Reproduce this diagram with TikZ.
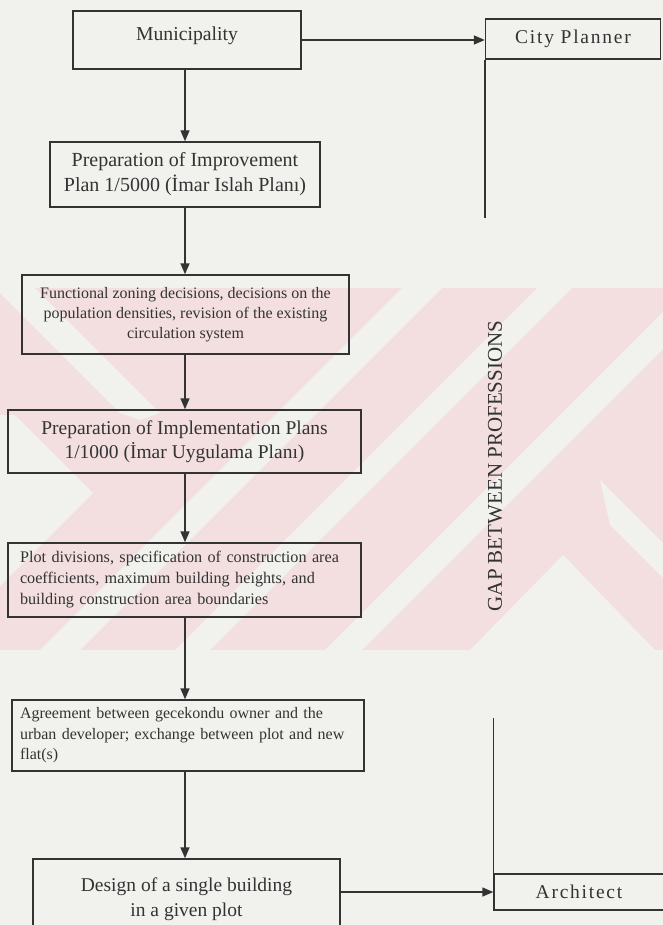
\documentclass[tikz,border=0pt]{standalone}
\usepackage{fontspec}
\setmainfont{Liberation Serif}
\newfontfamily\spacedfont[LetterSpace=9]{Liberation Serif}
\usetikzlibrary{arrows.meta}
\definecolor{bgc}{HTML}{F1F1EE}
\definecolor{pinkc}{HTML}{F3DFE0}
\definecolor{inkc}{HTML}{333333}
\begin{document}
\begin{tikzpicture}[x=1pt,y=-1pt,
  box/.style={draw=inkc, line width=1.4pt, rectangle, inner sep=0pt, text=inkc},
  arr/.style={draw=inkc, line width=1.4pt, -{Triangle[length=11pt,width=9pt]}},
  ln/.style={draw=inkc, line width=1.4pt}]
\useasboundingbox (0,0) rectangle (663,925);
\fill[bgc] (0,0) rectangle (663,925);
% faint watermark
\begin{scope}
\clip (0,288) rectangle (663,650);
\fill[pinkc] (0,288) rectangle (663,650);
\fill[bgc] (402,288) -- (442,288) -- (80,650) -- (40,650) -- cycle;
\fill[bgc] (537,288) -- (572,288) -- (210,650) -- (175,650) -- cycle;
\fill[bgc] (663,312) -- (663,349) -- (362,650) -- (325,650) -- cycle;
\fill[bgc] (-5,288) -- (35,288) -- (160,413) -- (140,420) -- (120,413) -- cycle;
\fill[bgc] (0,415) -- (15,415) -- (93,493) -- (0,586) -- cycle;
\fill[bgc] (563,555) -- (655,650) -- (470,650) -- cycle;
\fill[bgc] (600,480) -- (663,543) -- (663,578) -- (610,525) -- cycle;
\end{scope}

\coordinate (ax) at (185,0);
\coordinate (cpend) at (0,218);
\coordinate (arctop) at (0,718);

\node[box, minimum width=228pt, text height=30pt, text depth=28pt,
  font=\fontsize{19.7}{23}\selectfont] (mun) at (187,40) {Municipality};
\node[box, minimum width=175pt, minimum height=40pt,
  font=\fontsize{19.5}{23}\spacedfont] (cp) at (573,39) {City Planner};
\node[box, minimum width=270pt, minimum height=65pt, align=center,
  font=\fontsize{20}{25}\selectfont] (imp) at (185,174.5)
  {Preparation of Improvement\\Plan 1/5000 (İmar Islah Planı)};
\node[box, minimum width=327pt, minimum height=79pt, align=center,
  font=\fontsize{16}{20}\selectfont] (fun) at (185.5,314.5)
  {Functional zoning decisions, decisions on the\\population densities, revision of the existing\\circulation system};
\node[box, minimum width=353pt, minimum height=63pt, align=center,
  font=\fontsize{19.5}{24}\selectfont] (impl) at (184.5,441.5)
  {Preparation of Implementation Plans\\1/1000 (İmar Uygulama Planı)};
\node[box, minimum width=353pt, minimum height=74pt, align=left,
  text width=329pt, font=\fontsize{16.2}{21}\selectfont] (plot) at (184.5,580)
  {Plot divisions, specification of construction area\\coefficients, maximum building heights, and\\building construction area boundaries};
\node[box, minimum width=352pt, minimum height=71pt, align=left,
  text width=336pt, font=\fontsize{16}{20.5}\selectfont] (agr) at (188,735.5)
  {Agreement between gecekondu owner and the\\urban developer; exchange between plot and new\\flat(s)};
\node[box, minimum width=307pt, minimum height=80pt, align=center,
  font=\fontsize{19.5}{25}\selectfont] (des) at (186.5,899)
  {Design of a single building\\in a given plot};
\node[box, minimum width=186pt, minimum height=36pt,
  font=\fontsize{19.5}{23}\spacedfont] (arc) at (587,892) {Architect\hspace*{16pt}};
\node[rotate=90, text=inkc, inner sep=0pt,
  font=\fontsize{21}{25}\selectfont] (gap) at (495,466) {GAP BETWEEN PROFESSIONS};

\draw[arr] (mun.east) -- (mun.east -| cp.west);
\draw[ln] (cp.south west) -- (cp.south west |- cpend);
\draw[arr] (mun.south -| ax) -- (imp.north -| ax);
\draw[arr] (imp.south -| ax) -- (fun.north -| ax);
\draw[arr] (fun.south -| ax) -- (impl.north -| ax);
\draw[arr] (impl.south -| ax) -- (plot.north -| ax);
\draw[arr] (plot.south -| ax) -- (agr.north -| ax);
\draw[arr] (agr.south -| ax) -- (des.north -| ax);
\draw[arr] (arc.west -| des.east) -- (arc.west);
\draw[ln] (arc.north west |- arctop) -- (arc.north west);
\end{tikzpicture}
\end{document}
